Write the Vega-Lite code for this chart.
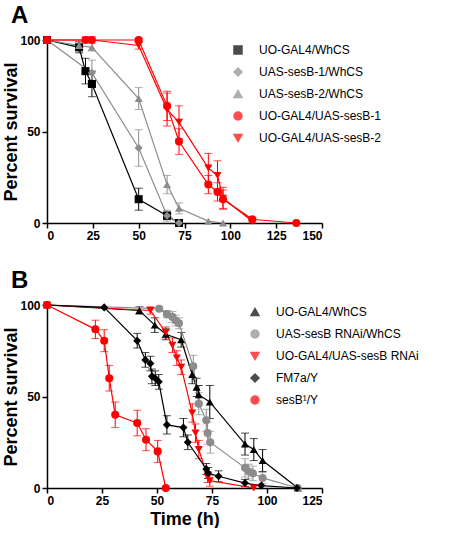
{
  "$schema": "https://vega.github.io/schema/vega-lite/v6.json",
  "padding": {"left": 2, "top": 4, "right": 0, "bottom": 0},
  "background": "white",
  "config": {
    "font": "Liberation Sans",
    "view": {"stroke": null},
    "axis": {"grid": false, "domainColor": "#000", "domainWidth": 1.5, "tickColor": "#000", "tickWidth": 1.5, "tickSize": 5, "labelFont": "Liberation Sans", "labelFontWeight": "bold", "labelFontSize": 12, "labelColor": "#000", "titleFont": "Liberation Sans", "titleFontSize": 18, "titleFontWeight": "bold", "titleColor": "#000"},
    "axisY": {"titlePadding": -1},
    "legend": {"labelFont": "Liberation Sans", "labelFontSize": 12, "labelColor": "#000", "labelOffset": 15, "rowPadding": 8, "symbolSize": 64, "labelLimit": 400},
    "title": {"font": "Liberation Sans", "fontSize": 24, "fontWeight": "bold", "color": "#000", "anchor": "start", "dx": 8}
  },
  "datasets": {
    "A": [
      {"g": "UO-GAL4/WhCS", "t": 0, "s": 100, "e": 0},
      {"g": "UO-GAL4/WhCS", "t": 17.5, "s": 96, "e": 3},
      {"g": "UO-GAL4/WhCS", "t": 21, "s": 83, "e": 7},
      {"g": "UO-GAL4/WhCS", "t": 24.5, "s": 76, "e": 7},
      {"g": "UO-GAL4/WhCS", "t": 50, "s": 13, "e": 6},
      {"g": "UO-GAL4/WhCS", "t": 65.5, "s": 4, "e": 2},
      {"g": "UO-GAL4/WhCS", "t": 72, "s": 0, "e": 0},
      {"g": "UAS-sesB-1/WhCS", "t": 0, "s": 100, "e": 0},
      {"g": "UAS-sesB-1/WhCS", "t": 24.5, "s": 82, "e": 7},
      {"g": "UAS-sesB-1/WhCS", "t": 50, "s": 41, "e": 10},
      {"g": "UAS-sesB-1/WhCS", "t": 65.5, "s": 4, "e": 3},
      {"g": "UAS-sesB-1/WhCS", "t": 72, "s": 0, "e": 0},
      {"g": "UAS-sesB-2/WhCS", "t": 0, "s": 100, "e": 0},
      {"g": "UAS-sesB-2/WhCS", "t": 17.5, "s": 97, "e": 2},
      {"g": "UAS-sesB-2/WhCS", "t": 24.5, "s": 96, "e": 2},
      {"g": "UAS-sesB-2/WhCS", "t": 50, "s": 68, "e": 6},
      {"g": "UAS-sesB-2/WhCS", "t": 65.5, "s": 21, "e": 5},
      {"g": "UAS-sesB-2/WhCS", "t": 72, "s": 8, "e": 3},
      {"g": "UAS-sesB-2/WhCS", "t": 88, "s": 1, "e": 0},
      {"g": "UAS-sesB-2/WhCS", "t": 96, "s": 0, "e": 0},
      {"g": "UO-GAL4/UAS-sesB-1", "t": 0, "s": 100, "e": 0},
      {"g": "UO-GAL4/UAS-sesB-1", "t": 21, "s": 100, "e": 0},
      {"g": "UO-GAL4/UAS-sesB-1", "t": 24.5, "s": 100, "e": 0},
      {"g": "UO-GAL4/UAS-sesB-1", "t": 50, "s": 100, "e": 1},
      {"g": "UO-GAL4/UAS-sesB-1", "t": 65.5, "s": 64, "e": 8},
      {"g": "UO-GAL4/UAS-sesB-1", "t": 72, "s": 44.5, "e": 7},
      {"g": "UO-GAL4/UAS-sesB-1", "t": 88, "s": 21, "e": 5},
      {"g": "UO-GAL4/UAS-sesB-1", "t": 93, "s": 17, "e": 5},
      {"g": "UO-GAL4/UAS-sesB-1", "t": 96, "s": 13, "e": 5},
      {"g": "UO-GAL4/UAS-sesB-1", "t": 112, "s": 2, "e": 1},
      {"g": "UO-GAL4/UAS-sesB-1", "t": 136, "s": 0, "e": 0},
      {"g": "UO-GAL4/UAS-sesB-2", "t": 0, "s": 100, "e": 0},
      {"g": "UO-GAL4/UAS-sesB-2", "t": 21, "s": 100, "e": 0},
      {"g": "UO-GAL4/UAS-sesB-2", "t": 24.5, "s": 100, "e": 0},
      {"g": "UO-GAL4/UAS-sesB-2", "t": 50, "s": 97, "e": 2},
      {"g": "UO-GAL4/UAS-sesB-2", "t": 65.5, "s": 62, "e": 9},
      {"g": "UO-GAL4/UAS-sesB-2", "t": 72, "s": 55, "e": 9},
      {"g": "UO-GAL4/UAS-sesB-2", "t": 88, "s": 30, "e": 8},
      {"g": "UO-GAL4/UAS-sesB-2", "t": 93, "s": 26, "e": 8},
      {"g": "UO-GAL4/UAS-sesB-2", "t": 96, "s": 13.5, "e": 6},
      {"g": "UO-GAL4/UAS-sesB-2", "t": 112, "s": 1, "e": 1}
    ],
    "B": [
      {"g": "UO-GAL4/WhCS", "t": 0, "s": 100, "e": 0},
      {"g": "UO-GAL4/WhCS", "t": 42, "s": 97, "e": 2},
      {"g": "UO-GAL4/WhCS", "t": 49, "s": 89, "e": 4},
      {"g": "UO-GAL4/WhCS", "t": 54, "s": 84, "e": 3},
      {"g": "UO-GAL4/WhCS", "t": 61, "s": 81, "e": 4},
      {"g": "UO-GAL4/WhCS", "t": 66, "s": 62, "e": 5},
      {"g": "UO-GAL4/WhCS", "t": 68, "s": 55, "e": 5},
      {"g": "UO-GAL4/WhCS", "t": 69, "s": 51, "e": 5},
      {"g": "UO-GAL4/WhCS", "t": 74, "s": 47, "e": 9},
      {"g": "UO-GAL4/WhCS", "t": 90, "s": 24, "e": 6},
      {"g": "UO-GAL4/WhCS", "t": 94, "s": 21, "e": 6},
      {"g": "UO-GAL4/WhCS", "t": 98, "s": 15, "e": 6},
      {"g": "UO-GAL4/WhCS", "t": 114, "s": 0, "e": 0},
      {"g": "UAS-sesB RNAi/WhCS", "t": 0, "s": 100, "e": 0},
      {"g": "UAS-sesB RNAi/WhCS", "t": 51, "s": 98, "e": 1},
      {"g": "UAS-sesB RNAi/WhCS", "t": 54.5, "s": 95, "e": 2},
      {"g": "UAS-sesB RNAi/WhCS", "t": 57, "s": 93.5, "e": 3},
      {"g": "UAS-sesB RNAi/WhCS", "t": 58.5, "s": 91.5, "e": 3},
      {"g": "UAS-sesB RNAi/WhCS", "t": 60, "s": 90, "e": 3},
      {"g": "UAS-sesB RNAi/WhCS", "t": 66.5, "s": 66.5, "e": 6},
      {"g": "UAS-sesB RNAi/WhCS", "t": 69, "s": 46, "e": 6},
      {"g": "UAS-sesB RNAi/WhCS", "t": 72.4, "s": 37, "e": 6},
      {"g": "UAS-sesB RNAi/WhCS", "t": 73, "s": 30, "e": 6},
      {"g": "UAS-sesB RNAi/WhCS", "t": 74.2, "s": 25, "e": 6},
      {"g": "UAS-sesB RNAi/WhCS", "t": 90, "s": 11, "e": 5},
      {"g": "UAS-sesB RNAi/WhCS", "t": 91.7, "s": 9, "e": 4},
      {"g": "UAS-sesB RNAi/WhCS", "t": 93.6, "s": 8, "e": 4},
      {"g": "UAS-sesB RNAi/WhCS", "t": 98, "s": 5.5, "e": 3},
      {"g": "UAS-sesB RNAi/WhCS", "t": 114, "s": 0, "e": 0},
      {"g": "UO-GAL4/UAS-sesB RNAi", "t": 0, "s": 100, "e": 0},
      {"g": "UO-GAL4/UAS-sesB RNAi", "t": 47, "s": 97, "e": 2},
      {"g": "UO-GAL4/UAS-sesB RNAi", "t": 54, "s": 85, "e": 3},
      {"g": "UO-GAL4/UAS-sesB RNAi", "t": 57, "s": 78, "e": 4},
      {"g": "UO-GAL4/UAS-sesB RNAi", "t": 59, "s": 71, "e": 4},
      {"g": "UO-GAL4/UAS-sesB RNAi", "t": 61, "s": 66, "e": 4},
      {"g": "UO-GAL4/UAS-sesB RNAi", "t": 66, "s": 41, "e": 5},
      {"g": "UO-GAL4/UAS-sesB RNAi", "t": 67.5, "s": 30, "e": 5},
      {"g": "UO-GAL4/UAS-sesB RNAi", "t": 69, "s": 21, "e": 5},
      {"g": "UO-GAL4/UAS-sesB RNAi", "t": 73, "s": 6, "e": 3},
      {"g": "UO-GAL4/UAS-sesB RNAi", "t": 74, "s": 4, "e": 3},
      {"g": "UO-GAL4/UAS-sesB RNAi", "t": 94, "s": 0, "e": 0},
      {"g": "FM7a/Y", "t": 0, "s": 100, "e": 0},
      {"g": "FM7a/Y", "t": 26, "s": 98.7, "e": 0},
      {"g": "FM7a/Y", "t": 41, "s": 80.5, "e": 4},
      {"g": "FM7a/Y", "t": 44.7, "s": 70, "e": 4},
      {"g": "FM7a/Y", "t": 47, "s": 68, "e": 4},
      {"g": "FM7a/Y", "t": 47.7, "s": 61, "e": 4},
      {"g": "FM7a/Y", "t": 49.2, "s": 60, "e": 4},
      {"g": "FM7a/Y", "t": 50.8, "s": 58, "e": 4},
      {"g": "FM7a/Y", "t": 54.5, "s": 34.5, "e": 5},
      {"g": "FM7a/Y", "t": 62, "s": 33, "e": 5},
      {"g": "FM7a/Y", "t": 64, "s": 25, "e": 4},
      {"g": "FM7a/Y", "t": 72.4, "s": 10.4, "e": 3},
      {"g": "FM7a/Y", "t": 73.2, "s": 8.2, "e": 3},
      {"g": "FM7a/Y", "t": 78, "s": 6.4, "e": 3},
      {"g": "FM7a/Y", "t": 90, "s": 2.7, "e": 2},
      {"g": "FM7a/Y", "t": 97.4, "s": 1.3, "e": 0},
      {"g": "FM7a/Y", "t": 113.6, "s": 0, "e": 0},
      {"g": "sesB¹/Y", "t": 0, "s": 100, "e": 0},
      {"g": "sesB¹/Y", "t": 22, "s": 86.7, "e": 5},
      {"g": "sesB¹/Y", "t": 26, "s": 80.5, "e": 6},
      {"g": "sesB¹/Y", "t": 28.3, "s": 60, "e": 7},
      {"g": "sesB¹/Y", "t": 31, "s": 40, "e": 7},
      {"g": "sesB¹/Y", "t": 41, "s": 35.5, "e": 7},
      {"g": "sesB¹/Y", "t": 45, "s": 26.4, "e": 6},
      {"g": "sesB¹/Y", "t": 50.3, "s": 20, "e": 6},
      {"g": "sesB¹/Y", "t": 54, "s": 0, "e": 0}
    ]
  },
  "vconcat": [
    {
      "title": {"text": "A", "offset": 6},
      "width": 275,
      "height": 183,
      "data": {"name": "A"},
      "encoding": {
        "x": {"field": "t", "type": "quantitative", "scale": {"domain": [0, 150], "nice": false}, "axis": {"title": null, "values": [0, 25, 50, 75, 100, 125, 150]}},
        "y": {"field": "s", "type": "quantitative", "scale": {"domain": [0, 100], "nice": false}, "axis": {"title": "Percent survival", "values": [0, 50, 100]}},
        "color": {"field": "g", "type": "nominal", "sort": null,
          "scale": {"domain": ["UO-GAL4/WhCS", "UAS-sesB-1/WhCS", "UAS-sesB-2/WhCS", "UO-GAL4/UAS-sesB-1", "UO-GAL4/UAS-sesB-2"], "range": ["#000000", "#8c8c8c", "#8c8c8c", "#ff0000", "#ff0000"]},
          "legend": {"title": null, "orient": "none", "legendX": 185, "legendY": 4}}
      },
      "layer": [
        {"transform": [{"filter": "datum.e > 0"}], "mark": {"type": "errorbar", "ticks": {"size": 8}, "thickness": 1}, "encoding": {"yError": {"field": "e"}}},
        {"mark": {"type": "line", "strokeWidth": 1.2}},
        {"mark": {"type": "point", "filled": true, "size": 65, "opacity": 1},
         "encoding": {"shape": {"field": "g", "type": "nominal", "sort": null, "scale": {"domain": ["UO-GAL4/WhCS", "UAS-sesB-1/WhCS", "UAS-sesB-2/WhCS", "UO-GAL4/UAS-sesB-1", "UO-GAL4/UAS-sesB-2"], "range": ["square", "diamond", "triangle-up", "circle", "triangle-down"]},
           "legend": {"title": null, "orient": "none", "legendX": 185, "legendY": 4}}}}
      ]
    },
    {
      "title": {"text": "B", "offset": 6},
      "width": 275,
      "height": 183,
      "data": {"name": "B"},
      "encoding": {
        "x": {"field": "t", "type": "quantitative", "scale": {"domain": [0, 125], "nice": false}, "axis": {"title": "Time (h)", "values": [0, 25, 50, 75, 100, 125]}},
        "y": {"field": "s", "type": "quantitative", "scale": {"domain": [0, 100], "nice": false}, "axis": {"title": "Percent survival", "values": [0, 50, 100]}},
        "color": {"field": "g", "type": "nominal", "sort": null,
          "scale": {"domain": ["UO-GAL4/WhCS", "UAS-sesB RNAi/WhCS", "UO-GAL4/UAS-sesB RNAi", "FM7a/Y", "sesB¹/Y"], "range": ["#000000", "#8c8c8c", "#ff0000", "#000000", "#ff0000"]},
          "legend": {"title": null, "orient": "none", "legendX": 202, "legendY": 1}}
      },
      "layer": [
        {"transform": [{"filter": "datum.e > 0"}], "mark": {"type": "errorbar", "ticks": {"size": 8}, "thickness": 1}, "encoding": {"yError": {"field": "e"}}},
        {"mark": {"type": "line", "strokeWidth": 1.2}},
        {"mark": {"type": "point", "filled": true, "size": 65, "opacity": 1},
         "encoding": {"shape": {"field": "g", "type": "nominal", "sort": null, "scale": {"domain": ["UO-GAL4/WhCS", "UAS-sesB RNAi/WhCS", "UO-GAL4/UAS-sesB RNAi", "FM7a/Y", "sesB¹/Y"], "range": ["triangle-up", "circle", "triangle-down", "diamond", "circle"]},
           "legend": {"title": null, "orient": "none", "legendX": 202, "legendY": 1}}}}
      ]
    }
  ],
  "spacing": 28,
  "resolve": {"scale": {"color": "independent", "shape": "independent"}}
}
